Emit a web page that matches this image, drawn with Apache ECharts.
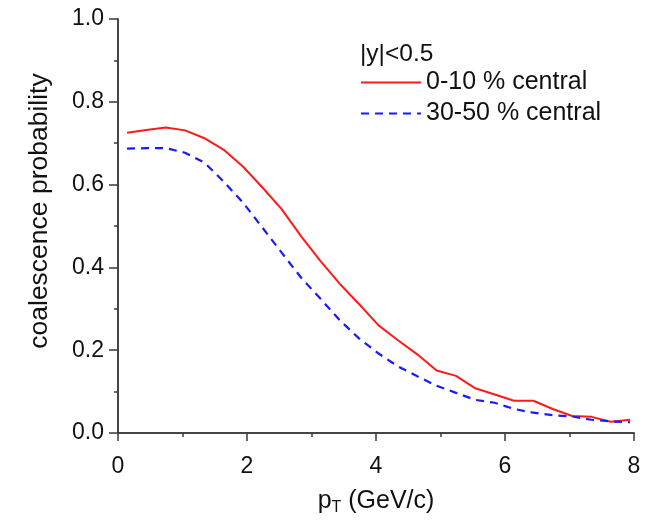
<!DOCTYPE html>
<html>
<head>
<meta charset="utf-8">
<script src="https://cdn.jsdelivr.net/npm/echarts@6/dist/echarts.min.js"></script>
<style>
html,body{margin:0;padding:0;background:#fff;}
#c{width:648px;height:521px;}
</style>
</head>
<body>
<div id="c"></div>
<script>
var pT = [0.14,0.44,0.74,1.04,1.34,1.64,1.94,2.24,2.54,2.84,3.14,3.44,3.74,4.04,4.34,4.64,4.94,5.24,5.54,5.84,6.14,6.44,6.74,7.04,7.34,7.64,7.94];
var central0_10 = [0.725,0.732,0.738,0.731,0.712,0.684,0.643,0.593,0.540,0.475,0.415,0.360,0.311,0.260,0.224,0.190,0.151,0.138,0.108,0.093,0.078,0.078,0.058,0.041,0.039,0.027,0.032];
var central30_50 = [0.687,0.688,0.688,0.677,0.653,0.607,0.556,0.496,0.435,0.375,0.324,0.272,0.228,0.192,0.161,0.137,0.114,0.097,0.080,0.073,0.058,0.049,0.043,0.040,0.032,0.028,0.026];
var seriesNames = ['0-10 % central','30-50 % central'];
var xTicks = [0,2,4,6,8];
var yTicks = [0,0.2,0.4,0.6,0.8,1.0];
var legendTitle = '|y|<0.5';

function pairs(xs, ys){ return xs.map(function(x,i){ return [x, ys[i]]; }); }

var FONT = '"Liberation Sans", Arial, Helvetica, sans-serif';
var AX = '#3a3a3a';
var chart = echarts.init(document.getElementById('c'), null, {renderer:'canvas'});
chart.setOption({
  animation:false,
  backgroundColor:'#fff',
  textStyle:{fontFamily:FONT},
  title:{
    text: legendTitle, left: 355, top: 37,
    textStyle:{fontFamily:FONT, fontSize:24.5, fontWeight:'normal', color:'#111'}
  },
  legend:{
    orient:'vertical', left:355, top:65,
    itemWidth:60, itemHeight:14, itemGap:6,
    itemStyle:{opacity:0},
    textStyle:{fontFamily:FONT, fontSize:25, color:'#111'},
    data: seriesNames
  },
  grid:{left:118, right:14, top:19, bottom:86, containLabel:false},
  xAxis:[{
    type:'value', min:xTicks[0], max:xTicks[xTicks.length-1], interval:2,
    name:'{a|p}{b|T}{a| (GeV/c)}', nameLocation:'middle', nameGap:53,
    nameTextStyle:{rich:{a:{fontFamily:FONT,fontSize:25,color:'#111'},b:{fontFamily:FONT,fontSize:16,color:'#111',verticalAlign:'bottom',padding:[14,0,0,0]}}},
    axisLine:{show:true, onZero:false, lineStyle:{color:AX, width:1.5}},
    axisTick:{show:true, inside:false, length:8, lineStyle:{color:AX, width:1.5}},
    minorTick:{show:true, splitNumber:2, length:4, lineStyle:{color:AX, width:1.5}},
    axisLabel:{fontFamily:FONT, fontSize:23, color:'#111', margin:22},
    splitLine:{show:false}
  },{
    type:'value', position:'top', min:0, max:8,
    axisLine:{show:true, lineStyle:{color:AX, width:1.5}},
    axisTick:{show:false}, axisLabel:{show:false}, splitLine:{show:false}
  }],
  yAxis:[{
    type:'value', min:yTicks[0], max:yTicks[yTicks.length-1], interval:0.2,
    name:'coalescence probability', nameLocation:'middle', nameGap:65,
    nameTextStyle:{fontFamily:FONT, fontSize:26.5, color:'#111', padding:[0,0,0,30]},
    axisLine:{show:true, onZero:false, lineStyle:{color:AX, width:1.5}},
    axisTick:{show:true, inside:false, length:8, lineStyle:{color:AX, width:1.5}},
    minorTick:{show:true, splitNumber:2, length:4, lineStyle:{color:AX, width:1.5}},
    axisLabel:{fontFamily:FONT, fontSize:23, color:'#111', margin:14, formatter:function(v){return v.toFixed(1);}},
    splitLine:{show:false}
  },{
    type:'value', position:'right', min:0, max:1, interval:0.2,
    axisLine:{show:true, lineStyle:{color:AX, width:1.5}},
    axisTick:{show:true, inside:true, length:9, lineStyle:{color:AX, width:1.5}},
    minorTick:{show:true, splitNumber:2, length:4, lineStyle:{color:AX, width:1.5}},
    axisLabel:{show:false}, splitLine:{show:false}
  }],
  series:[{
    name:seriesNames[0], type:'line', data:pairs(pT, central0_10),
    symbol:'none', smooth:false,
    lineStyle:{color:'#ff1a1a', width:2}, itemStyle:{color:'#ff1a1a'}
  },{
    name:seriesNames[1], type:'line', data:pairs(pT, central30_50),
    symbol:'none', smooth:false,
    lineStyle:{color:'#1a1aff', width:2.2, type:[8,6]}, itemStyle:{color:'#1a1aff'}
  }]
});
</script>
</body>
</html>
